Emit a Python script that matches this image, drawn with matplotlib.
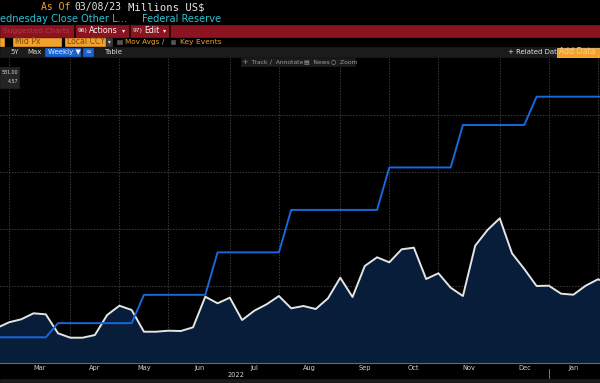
import numpy as np
import pandas as pd
import matplotlib
matplotlib.use("Agg")
import matplotlib.pyplot as plt
import matplotlib.dates as mdates
from matplotlib.patches import Rectangle

# weekly Wednesday closes, Feb 23 2022 .. Feb 8 2023
dates = pd.date_range("2022-02-23", periods=51, freq="W-WED")

# Other liabilities, millions US$
other_liab = [12630, 13630, 14160, 15210, 15030, 11700, 10930, 10930, 11400, 14910,
              16540, 15790, 11980, 11980, 12160, 12100, 12750, 18120, 16960, 17950,
              14030, 15670, 16790, 18240, 16090, 16490, 15960, 17840, 21450, 18070,
              23510, 25030, 24150, 26430, 26720, 21230, 22230, 19700, 18240, 27070,
              29820, 31870, 25730, 22980, 20000, 20050, 18650, 18470, 20050, 21170,
              20520]

# fed funds upper bound, %
fed_rate = [0.25, 0.25, 0.25, 0.25, 0.25, 0.5, 0.5, 0.5, 0.5, 0.5,
            0.5, 0.5, 1.0, 1.0, 1.0, 1.0, 1.0, 1.0, 1.75, 1.75,
            1.75, 1.75, 1.75, 1.75, 2.5, 2.5, 2.5, 2.5, 2.5, 2.5,
            2.5, 2.5, 3.25, 3.25, 3.25, 3.25, 3.25, 3.25, 4.0, 4.0,
            4.0, 4.0, 4.0, 4.0, 4.5, 4.5, 4.5, 4.5, 4.5, 4.5,
            4.5]

W, H = 600, 383
fig = plt.figure(figsize=(W / 100, H / 100), dpi=100, facecolor="black")


def fx(x):
    return x / W


def fy(y):
    return 1 - y / H


def box(x0, y0, x1, y1, color, z=1, ec=None):
    fig.add_artist(Rectangle((fx(x0), fy(y1)), (x1 - x0) / W, (y1 - y0) / H,
                             transform=fig.transFigure, facecolor=color,
                             edgecolor=ec if ec else color, lw=0.5, zorder=z))


def txt(x, y, s, color, size, ha="left", family="DejaVu Sans", z=5):
    fig.text(fx(x), fy(y), s, color=color, fontsize=size, ha=ha, va="center",
             family=family, zorder=z)


orange = "#f2a12c"
cyan = "#2ec0d2"

# header rows
txt(41, 7, "As Of", orange, 7.0, family="DejaVu Sans Mono")
txt(74, 7, "03/08/23", "#e6e6e6", 7.0, family="DejaVu Sans Mono")
txt(128, 7, "Millions US$", "#e6e6e6", 7.6, family="DejaVu Sans Mono")
txt(0, 19, "ednesday Close Other L...", cyan, 7.1)
txt(142, 19, "Federal Reserve", cyan, 7.1)

box(0, 25, W, 36.5, "#8c1421")
for sx in (73.5, 129, 168.5):
    box(sx, 25, sx + 1.2, 36.5, "#1a0205", z=2)
txt(3, 30.8, "Suggested Charts", "#a83a48", 5.4)
txt(78, 30.8, "96)", "#f0f0f0", 4.3)
txt(89, 30.8, "Actions", "#f4f4f4", 5.7)
txt(122, 31, "\u25be", "#f0f0f0", 4.5)
txt(133, 30.8, "97)", "#f0f0f0", 4.3)
txt(144, 30.8, "Edit", "#f4f4f4", 5.7)
txt(163, 31, "\u25be", "#f0f0f0", 4.5)

# row 4: orange fields
box(0, 38, 4, 45.5, orange)
box(12.5, 38, 61, 45.5, orange)
txt(15, 41.8, "Mid Px", "#7a4a05", 5.6)
box(65, 38, 105, 45.5, orange)
txt(67, 41.8, "Local CCY", "#7a4a05", 5.6)
box(106, 38, 112, 45.5, "#3a3a3a")
txt(109, 42, "\u25be", "#dddddd", 4, ha="center")
box(117, 39.5, 121.5, 44, "#555555")
txt(125, 41.8, "Mov Avgs", orange, 5.2)
txt(161.5, 41.8, "\u2215", "#bbbbbb", 5.0)
box(171, 39.5, 175.5, 44, "#555555")
txt(180, 41.8, "Key Events", orange, 5.4)

# row 5: gray toolbar
box(0, 46.5, W, 57, "#1b1b1b")
txt(10, 52, "5Y", "#d8d8d8", 5.0)
txt(27, 52, "Max", "#d8d8d8", 5.0)
box(45, 47.5, 79.5, 56, "#1563d6")
txt(47.5, 52, "Weekly \u25bc", "#f0f0f0", 5.0)
box(83, 47.5, 93, 56, "#1563d6")
txt(88, 52, "\u2248", "#f0f0f0", 5, ha="center")
txt(104, 52, "Table", "#d8d8d8", 5.0)
txt(508, 52, "+ Related Dat", "#e0e0e0", 5.0)
box(557, 47.5, W, 56.5, orange, ec="#ffd08a")
txt(559, 52, "Add Data", "#ffce80", 5.6)
box(0, 378.5, W, H, "#1b1b1b")

# main plot
ax = fig.add_axes([0, 1 - 363 / H, 1, (363 - 57) / H])
ax.set_facecolor("black")
x0 = mdates.date2num(pd.Timestamp("2022-03-02")) - 5.13
x1 = mdates.date2num(pd.Timestamp("2023-02-01")) + 1.2
ax.set_xlim(x0, x1)
ax.set_ylim(6492, 60164)

ax.fill_between(dates, other_liab, 0, color="#071d3a", lw=0, zorder=2)
ax.plot(dates, other_liab, color="#e4e4e4", lw=1.4, zorder=3)

firsts = [d for d in dates if d.day <= 7]
mids = [firsts[i] + (firsts[i + 1] - firsts[i]) / 2 for i in range(len(firsts) - 1)]
ax.set_xticks(firsts)
ax.set_xticklabels([])
ax.set_xticks(mids, minor=True)
ax.set_xticklabels([d.strftime("%b") for d in firsts[:-1]], minor=True)
ax.set_yticks([10000, 20000, 30000, 40000, 50000])
ax.set_yticklabels([])
ax.tick_params(axis="y", length=0)
ax.tick_params(axis="x", which="major", length=2, color="#777777", direction="in")
ax.tick_params(axis="x", which="minor", length=0, pad=1.5, labelsize=4.8,
               labelcolor="#cfcfcf")
ax.grid(True, which="major", color="#3c3c3c", lw=0.7, ls=(0, (1.5, 1.5)), zorder=1)
for s in ("top", "left", "right"):
    ax.spines[s].set_visible(False)
ax.spines["bottom"].set_color("#6a6a6a")
ax.spines["bottom"].set_linewidth(0.8)

ax2 = ax.twinx()
ax2.set_ylim(-0.204, 5.201)
ax2.plot(dates, fed_rate, color="#1768dd", lw=1.4, zorder=4)
ax2.set_yticks([])
for s in ax2.spines.values():
    s.set_visible(False)

txt(236, 375, "2022", "#cfcfcf", 4.8, ha="center")
fig.add_artist(plt.Line2D([fx(548.5)] * 2, [fy(369), fy(378)], transform=fig.transFigure,
                          color="#888888", lw=0.6))

# chart toolbar
box(241, 57.5, 355, 66, "#1c1c1c", z=6)
for xx, s in ((243, "\u271b  Track"), (270, "\u2215  Annotate"), (304, "\u25a4  News"), (331, "\u25cb  Zoom")):
    txt(xx, 62, s, "#9c9c9c", 4.3, z=7)

# last-value tag
box(0, 66.5, 19, 88, "#242424", z=6)
txt(18, 72.5, "581.00", "#d6d6d6", 3.4, ha="right", z=7)
txt(18, 81.5, "4.57", "#d6d6d6", 3.4, ha="right", z=7)

fig.savefig("out.png", dpi=100, facecolor="black")
